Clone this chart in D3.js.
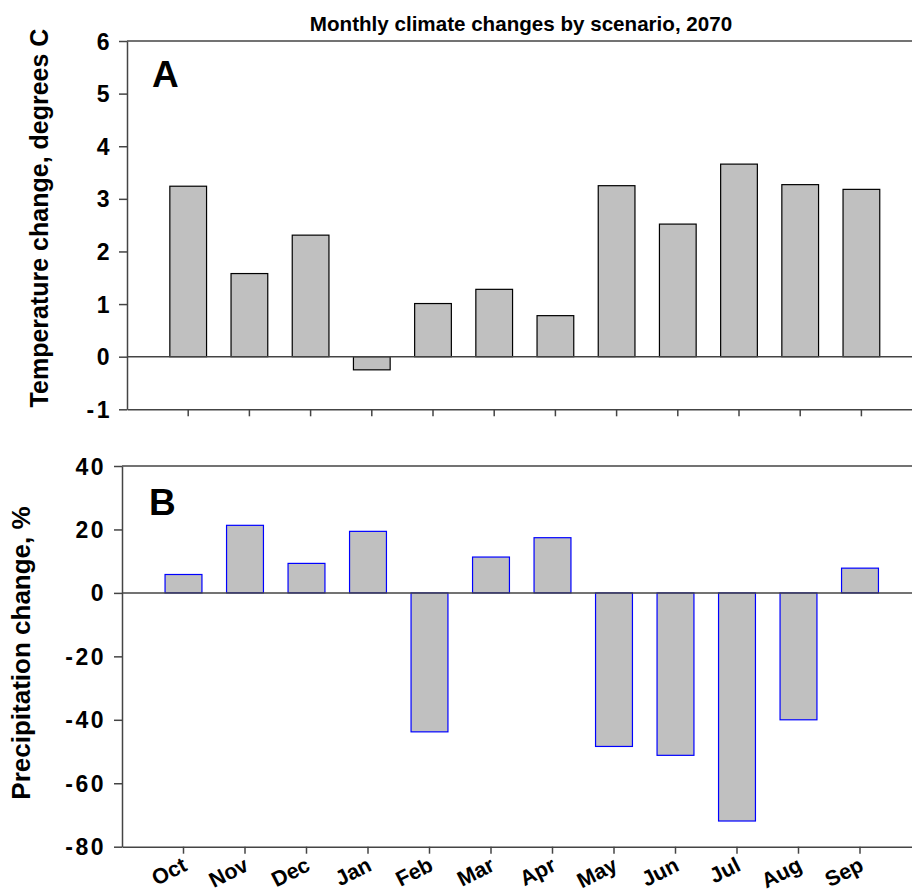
<!DOCTYPE html>
<html>
<head>
<meta charset="utf-8">
<script src="https://cdn.jsdelivr.net/npm/d3@7"></script>
<style>
  html, body { margin: 0; padding: 0; background: #fff; }
  svg { display: block; }
  text { font-family: Arial, "Liberation Sans", Helvetica, sans-serif; font-weight: bold; fill: #000; }
</style>
</head>
<body>
<svg id="chart" width="912" height="894"></svg>
<script>
// Monthly climate changes, water year order
const months = ["Oct", "Nov", "Dec", "Jan", "Feb", "Mar", "Apr", "May", "Jun", "Jul", "Aug", "Sep"];
const temperatureChange = [3.24, 1.58, 2.31, -0.25, 1.01, 1.28, 0.78, 3.25, 2.52, 3.66, 3.27, 3.18];
const precipitationChange = [5.8, 21.3, 9.3, 19.4, -43.8, 11.3, 17.4, -48.4, -51.2, -71.9, -40.0, 7.8];
const temperatureTicks = [-1, 0, 1, 2, 3, 4, 5, 6];
const precipitationTicks = [-80, -60, -40, -20, 0, 20, 40];

const svg = d3.select("#chart");
const axisColor = "#444";

// Title
svg.append("text")
  .attr("x", 521).attr("y", 31)
  .attr("text-anchor", "middle")
  .style("font-size", "20.6px")
  .text("Monthly climate changes by scenario, 2070");

function panel(opts) {
  const g = svg.append("g");
  const step = opts.step;
  const x = d3.scaleBand()
    .domain(months)
    .range([opts.left, opts.left + 13 * step])
    .paddingInner(0.4)
    .paddingOuter(0.7);
  const y = d3.scaleLinear().domain(opts.domain).range([opts.bottom, opts.top]);

  // top frame line
  g.append("line")
    .attr("x1", opts.left).attr("x2", opts.left + 13 * step)
    .attr("y1", y(opts.domain[1])).attr("y2", y(opts.domain[1]))
    .attr("stroke", axisColor).attr("stroke-width", 1.5);

  // bars
  g.selectAll("rect.bar")
    .data(opts.values)
    .join("rect")
    .attr("class", "bar")
    .attr("x", (d, i) => x(months[i]))
    .attr("width", x.bandwidth())
    .attr("y", d => y(Math.max(0, d)))
    .attr("height", d => Math.abs(y(d) - y(0)))
    .attr("fill", "#c0c0c0")
    .attr("stroke", opts.barStroke)
    .attr("stroke-width", 1.2);

  // zero line
  g.append("line")
    .attr("x1", opts.left).attr("x2", opts.left + 13 * step)
    .attr("y1", y(0)).attr("y2", y(0))
    .attr("stroke", axisColor).attr("stroke-width", 1.5);

  // y axis (plain hyphen for negatives)
  const yAxis = g.append("g")
    .attr("transform", `translate(${opts.left},0)`)
    .call(d3.axisLeft(y)
      .tickValues(opts.ticks)
      .tickFormat(d => String(d))
      .tickSize(8).tickSizeOuter(0).tickPadding(opts.tickPad));
  yAxis.select(".domain").attr("stroke", axisColor).attr("stroke-width", 1.5);
  yAxis.selectAll(".tick line").attr("stroke", axisColor).attr("stroke-width", 1.5);
  yAxis.selectAll(".tick text")
    .attr("font-family", null).attr("font-size", null)
    .style("font-size", "23px")
    .style("letter-spacing", "2.5px")
    .attr("dy", "0.35em");

  // x axis
  const xAxis = g.append("g")
    .attr("transform", `translate(0,${opts.bottom})`)
    .call(d3.axisBottom(x).tickSize(7).tickSizeOuter(0));
  xAxis.select(".domain").attr("stroke", axisColor).attr("stroke-width", 1.5);
  xAxis.selectAll(".tick line").attr("stroke", axisColor).attr("stroke-width", 1.5);
  if (opts.monthLabels) {
    xAxis.selectAll(".tick text")
      .attr("font-family", null).attr("font-size", null)
      .style("font-size", "21.5px")
      .attr("text-anchor", "end")
      .attr("y", 0).attr("dy", 0)
      .attr("transform", "translate(5,23) rotate(-27)");
  } else {
    xAxis.selectAll(".tick text").remove();
  }

  // axis title
  g.append("text")
    .attr("transform", `translate(${opts.titleX},${opts.titleY}) rotate(-90)`)
    .attr("text-anchor", "middle")
    .style("font-size", opts.titleSize)
    .text(opts.title);

  // panel letter
  g.append("text")
    .attr("x", opts.letterX).attr("y", opts.letterY)
    .style("font-size", "37px")
    .text(opts.letter);
}

panel({
  values: temperatureChange,
  domain: [-1, 6], ticks: temperatureTicks,
  left: 127, step: 61.2, top: 41, bottom: 409.3,
  tickPad: 7, barStroke: "#000",
  monthLabels: false,
  title: "Temperature change, degrees C", titleX: 48, titleY: 218, titleSize: "25px",
  letter: "A", letterX: 152, letterY: 87
});

panel({
  values: precipitationChange,
  domain: [-80, 40], ticks: precipitationTicks,
  left: 122, step: 61.5, top: 466, bottom: 846.7,
  tickPad: 8, barStroke: "#0000ff",
  monthLabels: true,
  title: "Precipitation change, %", titleX: 30, titleY: 653, titleSize: "26px",
  letter: "B", letterX: 149, letterY: 515
});
</script>
</body>
</html>
